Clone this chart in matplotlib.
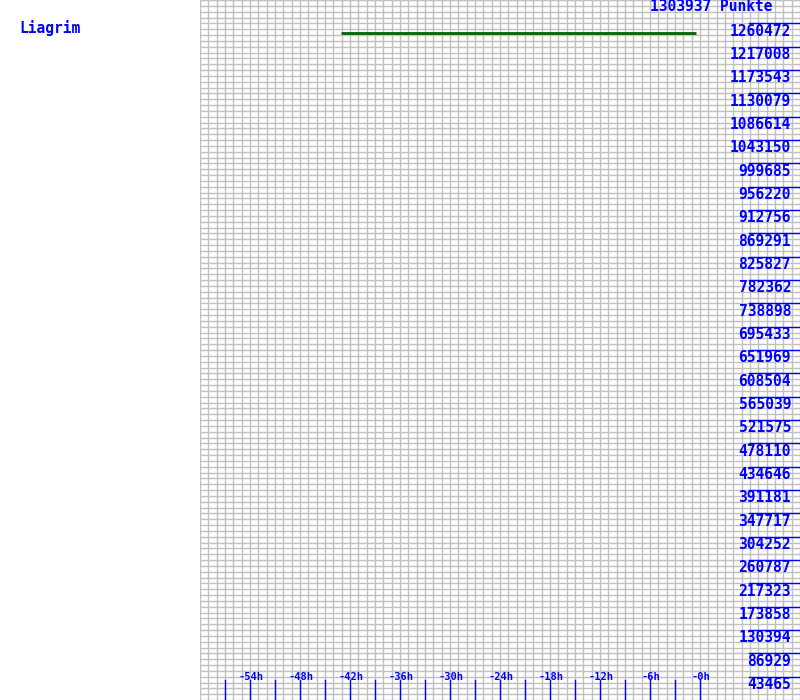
import matplotlib
matplotlib.use("Agg")
import matplotlib.pyplot as plt

# Punkte-Verlauf (Stunden relativ zu jetzt)
player = "Liagrim"
max_points = 1303937
hours = [-43.1, -0.5]
points = [1242500, 1242500]

x_ticks = [-57, -54, -51, -48, -45, -42, -39, -36, -33, -30, -27, -24,
           -21, -18, -15, -12, -9, -6, -3, 0]
x_labels = ["-54h", "-48h", "-42h", "-36h", "-30h", "-24h", "-18h", "-12h", "-6h", "-0h"]
x_label_pos = [-54, -48, -42, -36, -30, -24, -18, -12, -6, 0]

steps = 30
step = max_points / steps
y_vals = [step * i for i in range(1, steps)]

blue = "#0000ff"
grey = "#c0c0c0"
mono = "DejaVu Sans Mono"

fig = plt.figure(figsize=(8, 7), dpi=100)
ax = fig.add_axes([0.25, 0, 0.75, 1])
ax.set_xlim(-60, 12)
ax.set_ylim(0, max_points)

# Gitter
for h in range(-60, 13):
    ax.axvline(h, color=grey, lw=1, zorder=1)
for k in range(steps * 4 + 1):
    ax.axhline(k * step / 4, color=grey, lw=1, zorder=1)

ax.plot(hours, points, color="#006400", lw=2, solid_capstyle="butt", zorder=3)

# y-Beschriftung rechts
for v in y_vals:
    ax.plot([5.9, 12], [v, v], color=blue, lw=1, zorder=2)
    ax.text(10.92, v - step * 0.33, str(int(v + 0.5)), color=blue, family=mono,
            fontsize=10.5, fontweight="bold", ha="right", va="center", zorder=4)
ax.text(8.76, max_points - step * 0.28, f"{max_points} Punkte", color=blue,
        family=mono, fontsize=10.5, fontweight="bold", ha="right", va="center",
        zorder=4)

# x-Ticks unten
for t in x_ticks:
    ax.plot([t, t], [0, step * 0.86], color=blue, lw=1, zorder=2)
for t, lab in zip(x_label_pos, x_labels):
    ax.text(t + 0.1, step * 1.0, lab, color=blue, family=mono, fontsize=7.5,
            fontweight="bold", ha="center", va="center", zorder=4)

ax.axis("off")

fig.text(19 / 800, 1 - 28 / 700, player, color=blue, family=mono,
         fontsize=10.5, fontweight="bold", ha="left", va="center")

fig.savefig("out.png", dpi=100)
